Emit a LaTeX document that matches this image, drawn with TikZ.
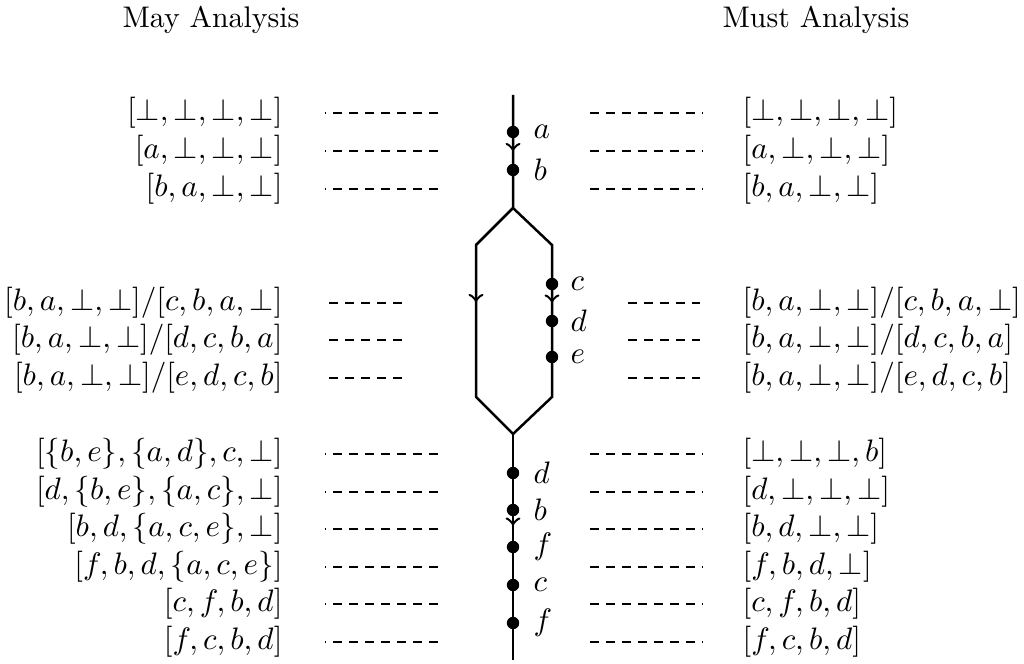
\documentclass[tikz,border=0pt]{standalone}
\usetikzlibrary{decorations.markings}
\begin{document}
\begin{tikzpicture}[x=0.322pt,y=-0.322pt,
  flow/.style={line width=0.8pt},
  dotnode/.style={circle,fill=black,inner sep=0pt,minimum size=4pt},
  lbl/.style={anchor=west,inner sep=0pt},
  leftstate/.style={anchor=east,inner sep=0pt},
  rightstate/.style={anchor=west,inner sep=0pt},
  dashline/.style={line width=0.4pt,dash pattern=on 3pt off 2.15pt},
  header/.style={anchor=base,inner sep=0pt,font=\fontsize{9.6}{11}\selectfont},
  arrowat/.style={decoration={markings,mark=at position #1 with {\arrow{to}}},postaction=decorate}]
\useasboundingbox (0,0) rectangle (1024,664);
% headers
\node[header] (may) at (211,28) {May Analysis};
\node[header] (must) at (816,28) {Must Analysis};
% flow graph
\coordinate (top) at (513,95);
\node[dotnode] (a) at (513,132) {};
\node[dotnode] (b) at (513,170) {};
\coordinate (split) at (513,208);
\coordinate (ltop) at (476,245);
\coordinate (rtop) at (552,245);
\coordinate (lbot) at (476,397);
\coordinate (rbot) at (552,397);
\coordinate (join) at (513,434);
\node[dotnode] (c) at (552,284) {};
\node[dotnode] (d) at (552,321) {};
\node[dotnode] (e) at (552,357) {};
\node[dotnode] (d2) at (513,473) {};
\node[dotnode] (b2) at (513,510) {};
\node[dotnode] (f1) at (513,547) {};
\node[dotnode] (c2) at (513,585) {};
\node[dotnode] (f2) at (513,623) {};
\coordinate (bottom) at (513,660);
\draw[flow,line join=miter] (top) -- (split) -- (ltop) -- (lbot) -- (join) -- (rbot) -- (rtop) -- (split);
\draw[flow] (join) -- (bottom);
\draw[flow,arrowat=0.5] (a.center) -- (b.center);
\draw[flow,arrowat=0.5] (c.center) -- (d.center);
\draw[flow,arrowat=0.375] (ltop) -- (lbot);
\draw[flow,arrowat=0.42] (b2.center) -- (f1.center);
% labels of dots
\node[lbl] (la) at (533,132) {$a$};
\node[lbl] (lb) at (533,170) {$b$};
\node[lbl] (lc) at (570,284) {$c$};
\node[lbl] (ld) at (570,321) {$d$};
\node[lbl] (le) at (570,357) {$e$};
\node[lbl] (ld2) at (533,473) {$d$};
\node[lbl] (lb2) at (533,510) {$b$};
\node[lbl] (lf1) at (533,547) {$f$};
\node[lbl] (lc2) at (533,585) {$c$};
\node[lbl] (lf2) at (533,623) {$f$};
% may analysis states
\node[leftstate] (m1) at (283,113) {$[\bot,\bot,\bot,\bot]$};
\node[leftstate] (m2) at (283,151) {$[a,\bot,\bot,\bot]$};
\node[leftstate] (m3) at (283,189) {$[b,a,\bot,\bot]$};
\node[leftstate] (m4) at (283,303) {$[b,a,\bot,\bot]/[c,b,a,\bot]$};
\node[leftstate] (m5) at (283,340) {$[b,a,\bot,\bot]/[d,c,b,a]$};
\node[leftstate] (m6) at (283,378) {$[b,a,\bot,\bot]/[e,d,c,b]$};
\node[leftstate] (m7) at (283,454) {$[\{b,e\},\{a,d\},c,\bot]$};
\node[leftstate] (m8) at (283,492) {$[d,\{b,e\},\{a,c\},\bot]$};
\node[leftstate] (m9) at (283,529) {$[b,d,\{a,c,e\},\bot]$};
\node[leftstate] (m10) at (283,567) {$[f,b,d,\{a,c,e\}]$};
\node[leftstate] (m11) at (283,604) {$[c,f,b,d]$};
\node[leftstate] (m12) at (283,642) {$[f,c,b,d]$};
% must analysis states
\node[rightstate] (s1) at (742,113) {$[\bot,\bot,\bot,\bot]$};
\node[rightstate] (s2) at (742,151) {$[a,\bot,\bot,\bot]$};
\node[rightstate] (s3) at (742,189) {$[b,a,\bot,\bot]$};
\node[rightstate] (s4) at (742,303) {$[b,a,\bot,\bot]/[c,b,a,\bot]$};
\node[rightstate] (s5) at (742,340) {$[b,a,\bot,\bot]/[d,c,b,a]$};
\node[rightstate] (s6) at (742,378) {$[b,a,\bot,\bot]/[e,d,c,b]$};
\node[rightstate] (s7) at (742,454) {$[\bot,\bot,\bot,b]$};
\node[rightstate] (s8) at (742,492) {$[d,\bot,\bot,\bot]$};
\node[rightstate] (s9) at (742,529) {$[b,d,\bot,\bot]$};
\node[rightstate] (s10) at (742,567) {$[f,b,d,\bot]$};
\node[rightstate] (s11) at (742,604) {$[c,f,b,d]$};
\node[rightstate] (s12) at (742,642) {$[f,c,b,d]$};
% dashed guides
\foreach \yy in {113,151,189,454,492,529,567,604,642}{
  \draw[dashline] (438,\yy) -- (325,\yy);
  \draw[dashline] (590,\yy) -- (703,\yy);
}
\foreach \yy in {303,340,378}{
  \draw[dashline] (402,\yy) -- (328,\yy);
  \draw[dashline] (628,\yy) -- (700,\yy);
}
\end{tikzpicture}
\end{document}
